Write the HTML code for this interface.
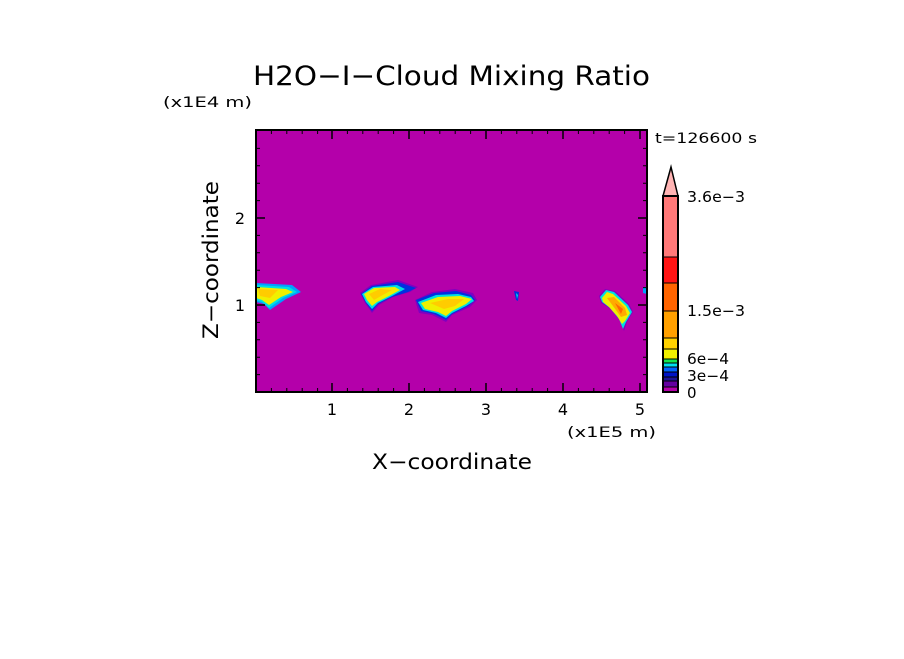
<!DOCTYPE html>
<html><head><style>
body{margin:0;background:#fff;}
svg text{font-family:"DejaVu Sans","Liberation Sans",sans-serif;fill:#000;}
</style></head><body>
<svg width="904" height="654" viewBox="0 0 904 654" xmlns="http://www.w3.org/2000/svg">
<rect width="904" height="654" fill="#fff"/>
<text x="253" y="85" font-size="27" textLength="397" lengthAdjust="spacingAndGlyphs">H2O−I−Cloud Mixing Ratio</text>
<text x="163" y="107" font-size="14" textLength="89" lengthAdjust="spacingAndGlyphs">(x1E4 m)</text>
<text x="655" y="143" font-size="14" textLength="102" lengthAdjust="spacingAndGlyphs">t=126600 s</text>
<rect x="256" y="130" width="391" height="262" fill="#b400aa"/>
<g>
<path d="M256,283 L292,285 L301,292 L286,299 L270,310 L264,304 L256,302 Z" fill="#00a0ff"/>
<path d="M256,285 L289,287 L297,292 L283,298 L269,308 L262,302 L256,300 Z" fill="#00e0e0"/>
<path d="M256,287 L286,289 L293,292 L281,297 L269,305 L262,300 L256,298 Z" fill="#f0f000"/>
<path d="M258,289 L278,290 L270,298 L260,296 Z" fill="#ffcc00"/>

<path d="M360,293 L371,285 L398,280 L418,287 L410,292 L393,297 L379,305 L372,313 L365,303 Z" fill="#8000c0"/>
<path d="M361,294 L372,286 L398,282 L416,288 L408,292 L392,297 L378,304 L372,311 L366,303 Z" fill="#0030e0"/>
<path d="M362,294 L373,287 L397,285 L405,289 L392,296 L378,303 L372,309 L366,302 Z" fill="#00e0e0"/>
<path d="M364,294 L374,288 L395,287 L400,290 L389,296 L377,302 L372,306 L367,300 Z" fill="#f0f000"/>
<path d="M369,294 L380,289 L392,290 L381,296 L374,300 Z" fill="#ffcc00"/>

<path d="M415,300 L432,292 L455,289 L473,293 L477,300 L470,307 L452,315 L446,322 L432,315 L419,313 Z" fill="#8000c0"/>
<path d="M416,300 L434,293 L456,291 L471,295 L475,300 L468,306 L452,314 L446,320 L434,314 L421,311 Z" fill="#0030e0"/>
<path d="M418,302 L436,295 L458,294 L471,297 L474,301 L466,306 L452,313 L446,318 L436,313 L423,310 Z" fill="#00e0e0"/>
<path d="M421,303 L438,297 L460,296 L472,299 L466,304 L452,311 L446,316 L438,312 L425,309 Z" fill="#f0f000"/>
<path d="M430,303 L448,299 L464,299 L455,306 L444,309 Z" fill="#ffcc00"/>

<path d="M514,291 L519,292 L518,301 L516,300 Z" fill="#0030e0"/>
<path d="M516,293 L518,295 L517,299 Z" fill="#00e0e0"/>

<path d="M599,296 L605,289 L615,291 L629,304 L633,312 L627,322 L624,331 L620,321 L611,309 L601,303 Z" fill="#8000c0"/>
<path d="M600,297 L606,290 L614,292 L628,305 L632,312 L626,322 L623,329 L619,319 L610,308 L602,302 Z" fill="#00e0e0"/>
<path d="M602,298 L607,292 L613,294 L626,306 L630,313 L625,321 L622,324 L617,316 L609,307 L603,302 Z" fill="#f0f000"/>
<path d="M607,298 L614,297 L625,308 L627,315 L621,317 L613,306 Z" fill="#ffaa00"/>
<path d="M615,303 L623,309 L621,314 Z" fill="#ff6600"/>
<path d="M643,287 L647,287 L647,294 L643,293 Z" fill="#00a0ff"/>
</g>
<rect x="256" y="130" width="391" height="262" fill="none" stroke="#000" stroke-width="2"/>
<g stroke="#000" stroke-width="1.5">
<path d="M332,392v-9M409,392v-9M486,392v-9M563,392v-9M640,392v-9M332,130v9M409,130v9M486,130v9M563,130v9M640,130v9"/>
<path d="M256,305h9M256,218h9M647,305h-9M647,218h-9" />
</g>
<g stroke="#000" stroke-width="1">
<path d="M271.4,392v-4M286.8,392v-4M302.2,392v-4M317.6,392v-4M347.4,392v-4M362.8,392v-4M378.2,392v-4M393.6,392v-4M424.4,392v-4M439.8,392v-4M455.2,392v-4M470.6,392v-4M501.4,392v-4M516.8,392v-4M532.2,392v-4M547.6,392v-4M578.4,392v-4M593.8,392v-4M609.2,392v-4M624.6,392v-4"/>
<path d="M271.4,130v4M286.8,130v4M302.2,130v4M317.6,130v4M347.4,130v4M362.8,130v4M378.2,130v4M393.6,130v4M424.4,130v4M439.8,130v4M455.2,130v4M470.6,130v4M501.4,130v4M516.8,130v4M532.2,130v4M547.6,130v4M578.4,130v4M593.8,130v4M609.2,130v4M624.6,130v4"/>
<path d="M256,374.6h4M256,357.2h4M256,339.8h4M256,322.4h4M256,287.6h4M256,270.2h4M256,252.8h4M256,235.4h4M256,200.6h4M256,183.2h4M256,165.8h4M256,148.4h4"/>
<path d="M647,374.6h-4M647,357.2h-4M647,339.8h-4M647,322.4h-4M647,287.6h-4M647,270.2h-4M647,252.8h-4M647,235.4h-4M647,200.6h-4M647,183.2h-4M647,165.8h-4M647,148.4h-4"/>
</g>
<g font-size="16" text-anchor="middle">
<text x="332" y="415">1</text><text x="409" y="415">2</text><text x="486" y="415">3</text><text x="563" y="415">4</text><text x="640" y="415">5</text>
</g>
<text x="240" y="311" font-size="16" text-anchor="middle">1</text>
<text x="240" y="224" font-size="16" text-anchor="middle">2</text>
<text x="567" y="437" font-size="14" textLength="89" lengthAdjust="spacingAndGlyphs">(x1E5 m)</text>
<text x="372" y="469" font-size="21" textLength="160" lengthAdjust="spacingAndGlyphs">X−coordinate</text>
<text transform="translate(218,339) rotate(-90)" font-size="21" textLength="158" lengthAdjust="spacingAndGlyphs">Z−coordinate</text>
<g stroke="#000" stroke-width="1">
<path d="M663,196 L671,167 L678,196 Z" fill="#ffb4b4" stroke-width="1.5"/>
<rect x="663" y="196" width="15" height="61" fill="#ff7878"/>
<rect x="663" y="257" width="15" height="26" fill="#ff1414"/>
<rect x="663" y="283" width="15" height="28" fill="#ff6400"/>
<rect x="663" y="311" width="15" height="27" fill="#ffa000"/>
<rect x="663" y="338" width="15" height="11" fill="#ffd200"/>
<rect x="663" y="349" width="15" height="10" fill="#f0f000"/>
<rect x="663" y="359" width="15" height="4" fill="#14e650"/>
<rect x="663" y="363" width="15" height="4" fill="#00e0f0"/>
<rect x="663" y="367" width="15" height="5" fill="#0064ff"/>
<rect x="663" y="372" width="15" height="5" fill="#0014c8"/>
<rect x="663" y="377" width="15" height="4" fill="#1e1496"/>
<rect x="663" y="381" width="15" height="6" fill="#6400a0"/>
<rect x="663" y="387" width="15" height="5" fill="#b400aa"/>
<rect x="663" y="196" width="15" height="196" fill="none" stroke-width="2"/>
</g>
<g font-size="15">
<text x="687" y="202" textLength="58" lengthAdjust="spacingAndGlyphs">3.6e−3</text>
<text x="687" y="316" textLength="58" lengthAdjust="spacingAndGlyphs">1.5e−3</text>
<text x="687" y="364" textLength="42" lengthAdjust="spacingAndGlyphs">6e−4</text>
<text x="687" y="381" textLength="42" lengthAdjust="spacingAndGlyphs">3e−4</text>
<text x="687" y="398">0</text>
</g>
</svg>
</body></html>
